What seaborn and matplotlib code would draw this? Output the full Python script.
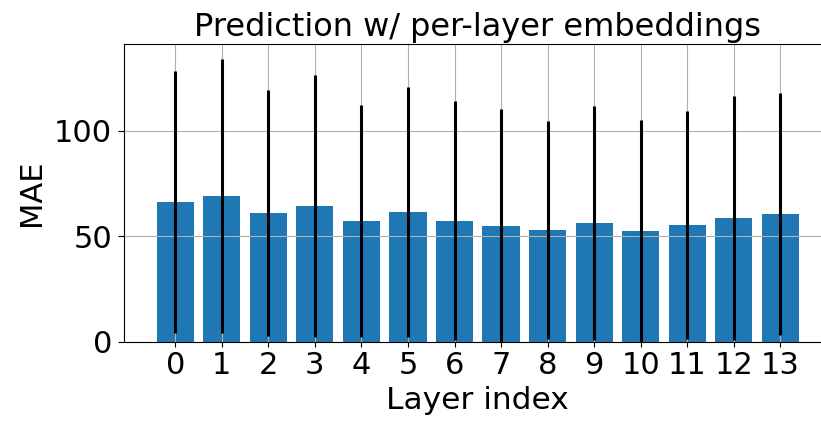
import matplotlib
matplotlib.use("Agg")
import matplotlib.pyplot as plt
import seaborn as sns
import pandas as pd
import numpy as np

layers = list(range(14))
mae_mean = [66.3, 69.1, 61.0, 64.4, 57.3, 61.5, 57.3, 54.9, 53.0, 56.3, 52.5, 55.4, 58.7, 60.6]
mae_err = [62.3, 64.9, 58.4, 62.0, 55.0, 59.3, 56.7, 55.5, 51.8, 55.5, 52.7, 54.2, 57.7, 57.5]

title = "Prediction w/ per-layer embeddings"
xlabel = "Layer index"
ylabel = "MAE"

plt.rcParams['font.family'] = ['DejaVu Sans']
plt.rcParams['axes.grid'] = True

df = pd.DataFrame({"layer": [str(l) for l in layers], "mae": mae_mean})

fig = plt.figure(figsize=(8.21, 4.21), dpi=100)
ax = fig.add_axes([124/821, 1-341.7/421, (831.6-124)/821, (341.7-44)/421])

sns.barplot(data=df, x="layer", y="mae", color="#1f77b4", saturation=1,
            errorbar=None, width=0.8, ax=ax)
ax.errorbar(np.arange(len(layers)), mae_mean, yerr=mae_err, fmt='none',
            ecolor='black', elinewidth=2.2, capsize=0)

ax.grid(True, color='#b0b0b0', linewidth=0.8)
ax.set_xlim(-1.1, 14.1)
ax.set_ylim(0, 141.2)
ax.set_yticks([0, 50, 100])
ax.tick_params(labelsize=22)
ax.tick_params(axis='y', length=4, pad=4.5)
ax.set_title(title, fontsize=23)
ax.set_xlabel(xlabel, fontsize=22.5)
ax.set_ylabel(ylabel, fontsize=22, labelpad=6)
ax.spines['right'].set_visible(False)

fig.savefig("out.png", dpi=100)
